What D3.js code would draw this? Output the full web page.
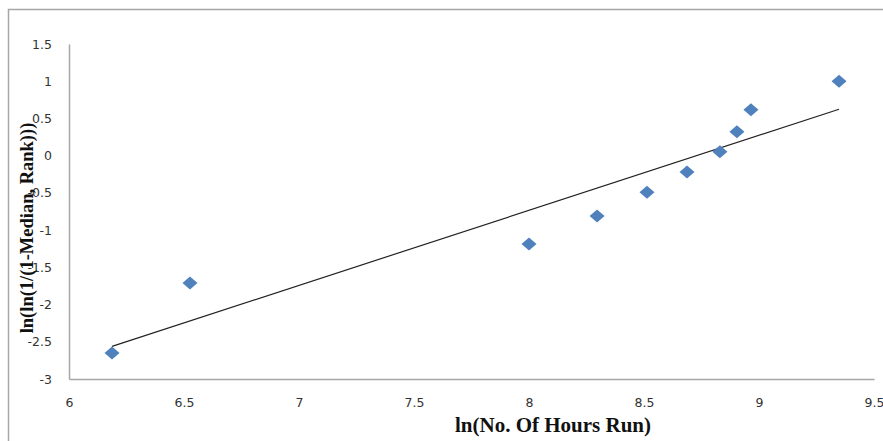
<!DOCTYPE html>
<html lang="en">
	<head>
		<meta charset="utf-8">
		<title>Weibull plot</title>
		<script type="text/javascript" src="https://cdn.jsdelivr.net/npm/d3@7"></script>
		<style type="text/css">
			body { margin: 0; background: #fff; }
			.tick text { font-family: "DejaVu Sans", Verdana, sans-serif; font-size: 12.5px; fill: #333; }
			.axis path { stroke: #a6a6a6; stroke-width: 1.5px; }
			.title { font-family: "Liberation Serif", "Times New Roman", serif; font-weight: bold; fill: #111; }
		</style>
	</head>
	<body>
		<script type="text/javascript">

			// Width and height
			var w = 883;
			var h = 441;

			// Values
			var hoursLn = [6.187, 6.526, 8.0, 8.296, 8.513, 8.687, 8.83, 8.904, 8.965, 9.348];
			var rankLn  = [-2.65, -1.71, -1.185, -0.81, -0.49, -0.218, 0.051, 0.32, 0.616, 1.0];
			var xTicks = [6, 6.5, 7, 7.5, 8, 8.5, 9, 9.5];
			var yTicks = [-3, -2.5, -2, -1.5, -1, -0.5, 0, 0.5, 1, 1.5];

			var svg = d3.select("body")
				.append("svg")
				.attr("width", w)
				.attr("height", h);

			// chart frame (runs off the right and bottom edges)
			svg.append("path")
				.attr("d", "M8.5," + h + "V9.5H" + w)
				.attr("fill", "none")
				.attr("stroke", "#a6a6a6")
				.attr("stroke-width", 1.5);

			var x = d3.scaleLinear().domain([6, 9.5]).range([69, 874]);
			var y = d3.scaleLinear().domain([-3, 1.5]).range([379, 44]);

			svg.append("g")
				.attr("class", "axis")
				.attr("transform", "translate(0," + y(-3) + ")")
				.call(d3.axisBottom(x).tickValues(xTicks).tickSize(0).tickPadding(19)
					.tickFormat(function(d) { return String(d); }));

			svg.append("g")
				.attr("class", "axis")
				.attr("transform", "translate(" + x(6) + ",0)")
				.call(d3.axisLeft(y).tickValues(yTicks).tickSize(0).tickPadding(17)
					.tickFormat(function(d) { return String(d); }));

			// least squares trend line
			var mx = d3.mean(hoursLn), my = d3.mean(rankLn);
			var sxy = d3.sum(hoursLn, function(v, i) { return (v - mx) * (rankLn[i] - my); });
			var sxx = d3.sum(hoursLn, function(v) { return (v - mx) * (v - mx); });
			var slope = sxy / sxx, icpt = my - slope * mx;
			var ext = d3.extent(hoursLn);

			svg.append("line")
				.attr("x1", x(ext[0]))
				.attr("y1", y(slope * ext[0] + icpt))
				.attr("x2", x(ext[1]))
				.attr("y2", y(slope * ext[1] + icpt))
				.attr("stroke", "#222")
				.attr("stroke-width", 1.2);

			// diamond markers
			svg.selectAll("path.pt")
				.data(hoursLn)
				.enter()
				.append("path")
				.attr("class", "pt")
				.attr("d", "M0,-6.5L7.5,0L0,6.5L-7.5,0Z")
				.attr("fill", "#4f81bd")
				.attr("transform", function(d, i) {
					return "translate(" + x(d) + "," + y(rankLn[i]) + ")";
				});

			// axis titles
			svg.append("text")
				.attr("class", "title")
				.attr("x", 553)
				.attr("y", 432)
				.attr("text-anchor", "middle")
				.style("font-size", "21px")
				.text("ln(No. Of Hours Run)");

			svg.append("text")
				.attr("class", "title")
				.attr("transform", "translate(33,228) rotate(-90)")
				.attr("text-anchor", "middle")
				.style("font-size", "18.5px")
				.text("ln(ln(1/(1-Median, Rank)))");

		</script>
	</body>
</html>
